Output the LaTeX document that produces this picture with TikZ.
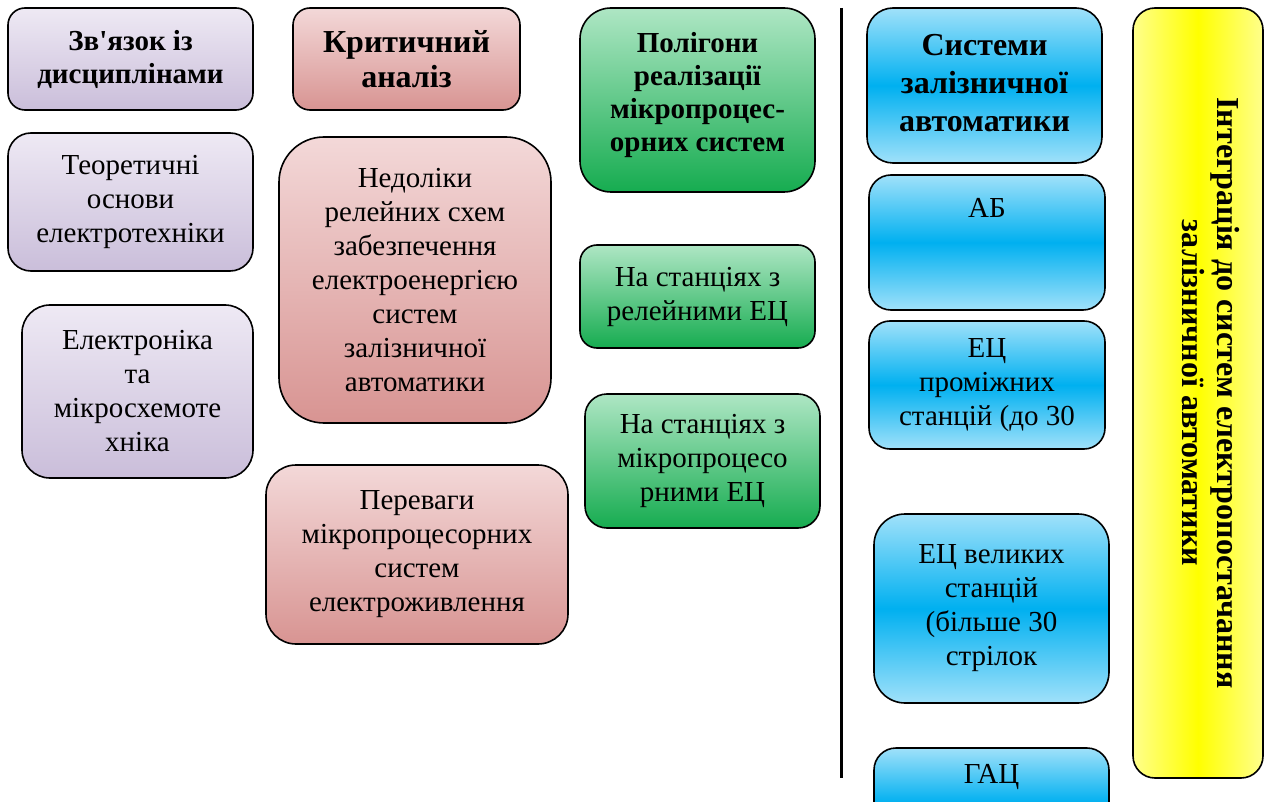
\documentclass[tikz,border=0pt]{standalone}
\usepackage{fontspec}
\setmainfont{Liberation Serif}[Ligatures=TeXOff]
\usetikzlibrary{positioning}

\definecolor{lilacTop}{RGB}{238,233,244}
\definecolor{lilacBot}{RGB}{202,190,218}
\definecolor{roseTop}{RGB}{243,216,216}
\definecolor{roseBot}{RGB}{216,148,146}
\definecolor{mintTop}{RGB}{174,230,196}
\definecolor{mintBot}{RGB}{22,172,80}
\definecolor{skyEdge}{RGB}{160,225,250}
\definecolor{skyMid}{RGB}{0,176,240}
\definecolor{lemonEdge}{RGB}{255,255,140}
\definecolor{lemonMid}{RGB}{255,255,0}

\begin{document}
\begin{tikzpicture}[x=1pt, y=-1pt,
		card/.style={draw=black, line width=1.6pt, align=center, inner sep=0pt,
			font=\fontsize{29}{34}\selectfont},
		lilac/.style={card, top color=lilacTop, bottom color=lilacBot},
		rose/.style={card, top color=roseTop, bottom color=roseBot},
		mint/.style={card, top color=mintTop, bottom color=mintBot},
		sky/.style={card, top color=skyEdge, bottom color=skyEdge, middle color=skyMid},
		lemon/.style={card, left color=lemonEdge, right color=lemonEdge, middle color=lemonMid},
		head/.style={font=\fontsize{29}{33}\selectfont\bfseries},
		plain/.style={align=center, inner sep=0pt, font=\fontsize{29}{34}\selectfont}]
	\clip (0, 0) rectangle (1266, 802);
	
	% disciplines
	\node[lilac, head, minimum width=245pt, minimum height=102pt, rounded corners=17pt] (links) at (130.5, 59) {Зв'язок із\\дисциплінами};
	\node[lilac, minimum width=245pt, minimum height=138pt, rounded corners=23pt] (theory) at (130.5, 202) {Теоретичні\\основи\\електротехніки};
	\node[lilac, minimum width=231pt, minimum height=173pt, rounded corners=28pt] (electronics) at (137.5, 391.5) {Електроніка\\та\\мікросхемоте\\хніка};
	
	% critical analysis
	\node[rose, minimum width=227pt, minimum height=102pt, rounded corners=17pt, font=\fontsize{32}{35}\selectfont\bfseries] (critical) at (406.5, 59) {Критичний\\аналіз};
	\node[rose, minimum width=272pt, minimum height=286pt, rounded corners=45pt] (flaws) at (415, 280) {Недоліки\\релейних схем\\забезпечення\\електроенергією\\систем\\залізничної\\автоматики};
	\node[rose, minimum width=302pt, minimum height=179pt, rounded corners=30pt] (merits) at (417, 554.5) {Переваги\\мікропроцесорних\\систем\\електроживлення};
	
	% polygons
	\node[mint, minimum width=235pt, minimum height=184pt, rounded corners=31pt] (polygons) at (697.5, 100) {};
	\node[plain, head] (polygonsT) at (697.5, 95) {Полігони\\реалізації\\мікропроцес-\\орних систем};
	\node[mint, minimum width=235pt, minimum height=103pt, rounded corners=17pt] (relay) at (697.5, 296.5) {На станціях з\\релейними ЕЦ};
	\node[mint, minimum width=235pt, minimum height=134pt, rounded corners=22pt] (micro) at (702.5, 461) {На станціях з\\мікропроцесо\\рними ЕЦ};
	
	\coordinate (sepTop) at (841, 8);
	\coordinate (sepBot) at (841, 778);
	\draw[line width=3pt] (sepTop) -- (sepBot);
	
	% railway automation
	\node[sky, minimum width=235pt, minimum height=155pt, rounded corners=26pt] (systems) at (984.5, 85.5) {};
	\node[plain, font=\fontsize{32}{38}\selectfont\bfseries] (systemsT) at (984.5, 83) {Системи\\залізничної\\автоматики};
	\node[sky, minimum width=236pt, minimum height=135pt, rounded corners=22pt] (ab) at (987, 242.5) {};
	\node[plain] (abT) at (987, 208) {АБ};
	\node[sky, minimum width=236pt, minimum height=128pt, rounded corners=21pt] (midst) at (987, 385) {ЕЦ\\проміжних\\станцій (до 30};
	\node[sky, minimum width=235pt, minimum height=189pt, rounded corners=31pt] (bigst) at (991.5, 608.5) {ЕЦ великих\\станцій\\(більше 30\\стрілок};
	\node[sky, minimum width=235pt, minimum height=110pt, rounded corners=22pt] (hump) at (991.5, 803) {};
	\node[plain] (humpT) at (991.5, 777) {ГАЦ};
	
	\node[lemon, minimum width=130pt, minimum height=770pt, rounded corners=22pt] (integr) at (1198, 393) {};
	\node[plain, rotate=-90, font=\fontsize{32}{35}\selectfont\bfseries] (integrT) at (1211, 393) {Інтеграція до систем електропостачання\\залізничної автоматики};
\end{tikzpicture}
\end{document}
